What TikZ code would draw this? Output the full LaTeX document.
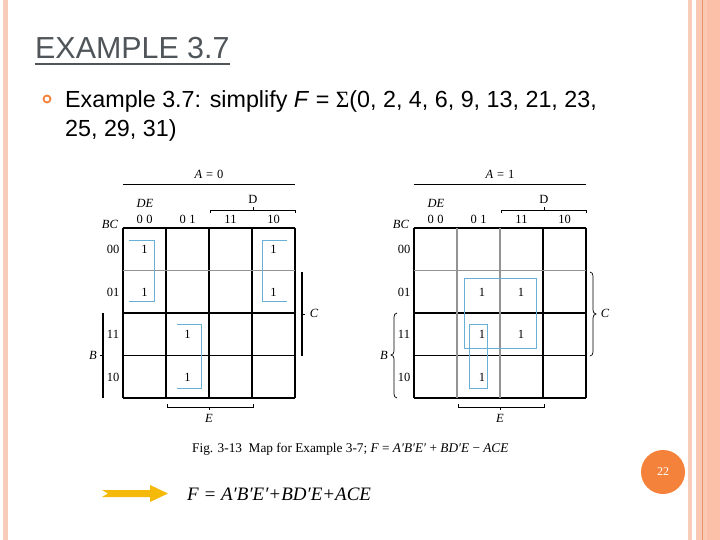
\documentclass[tikz,border=0pt]{standalone}
\usepackage{fontspec}
\setmainfont{Liberation Serif}
\newfontfamily\sansf{Liberation Sans}
\usetikzlibrary{calc}
\definecolor{pinkA}{HTML}{F9CBB9}
\definecolor{pinkB}{HTML}{FBC8B4}
\definecolor{pinkC}{HTML}{FCBFA8}
\definecolor{orgline}{HTML}{E9946B}
\definecolor{titlegray}{HTML}{50555A}
\definecolor{circorange}{HTML}{F5823A}
\definecolor{groupblue}{HTML}{6AAFD6}
\definecolor{arrowgold}{HTML}{F5B90A}
\tikzset{
  klab/.style={inner sep=0, font=\fontsize{12.5}{14}\selectfont},
  kone/.style={inner sep=0, font=\fontsize{12.5}{14}\selectfont},
  kgrid/.style={black, line width=1.1pt},
  kgray/.style={gray!85, line width=1.6pt},
  kbrk/.style={black, line width=0.8pt},
  grp/.style={groupblue, line width=0.9pt},
}
\newcommand\kmapframe[2]{%
  \foreach \i in {0,...,4} \draw[kgrid] (\i*43,0) -- (\i*43,170);
  \foreach \j in {0,...,4} \draw[kgrid] (0,\j*42.5) -- (172,\j*42.5);
  \node[klab] (#1A) at (86,-54) {\textit{A}\hspace{4pt}=\hspace{4pt}#2};
  \draw[kbrk] (0,-44) -- (172,-44);
  \node[klab] (#1DE) at (22,-25) {\textit{DE}};
  \node[klab] (#1D) at (130,-29) {D};
  \draw[kbrk, line width=0.6pt] (87,-15) -- (87,-18) -- (172,-18) -- (172,-15);
  \draw[kbrk, line width=0.6pt] (130,-18) -- (130,-21);
  \node[klab] (#1c0) at (21.5,-9) {0\hspace{3.5pt}0};
  \node[klab] (#1c1) at (64.5,-9) {0\hspace{3.5pt}1};
  \node[klab] (#1c2) at (107.5,-9) {11};
  \node[klab] (#1c3) at (150.5,-9) {10};
  \node[klab] (#1BC) at (-13,-4) {\textit{BC}};
  \node[klab] (#1r0) at (-10,21) {00};
  \node[klab] (#1r1) at (-10,64) {01};
  \node[klab] (#1r2) at (-10,106) {11};
  \node[klab] (#1r3) at (-10,149) {10};
  \node[klab] (#1B) at (-30,127) {\textit{B}};
  \node[klab] (#1C) at (191,85) {\textit{C}};
  \node[klab] (#1E) at (86,190) {\textit{E}};
  \draw[kbrk, line width=0.6pt] (44,176) -- (44,179) -- (130,179) -- (130,176);
  \draw[kbrk, line width=0.6pt] (86,179) -- (86,182);
}
\begin{document}
\begin{tikzpicture}[x=1pt,y=-1pt]
\useasboundingbox (0,0) rectangle (720,540);
\fill[white] (0,0) rectangle (720,540);
% borders
\fill[pinkA] (3,0) rectangle (8,540);
\fill[pinkA] (688,0) rectangle (692,540);
\fill[pinkB] (696,0) rectangle (720,540);
\fill[pinkC] (707,0) rectangle (720,540);
\draw[orgline, line width=1pt] (702.5,0) -- (702.5,540);
% title
\node[anchor=base west, inner sep=0, text=titlegray,
      font=\sansf\fontsize{30.4}{32}\selectfont] (title) at (35,59) {EXAMPLE 3.7};
\draw[titlegray, line width=1.3pt] ($(title.base west)+(0,5)$) -- ($(title.base east)+(0,5)$);
% bullet text
\node[circle, draw=circorange, line width=1.8pt, minimum size=7pt, inner sep=0] (bul) at (47,99) {};
\node[anchor=base west, inner sep=0, font=\sansf\fontsize{23.3}{28}\selectfont] (l1) at (65,107.5)
  {Example 3.7: simplify \textit{F} = {\rmfamily Σ}(0, 2, 4, 6, 9, 13, 21, 23,};
\node[anchor=base west, inner sep=0, font=\sansf\fontsize{23.3}{28}\selectfont] (l2) at (65,136.5)
  {25, 29, 31)};
% left map
\begin{scope}[shift={(123,228)}]
  \kmapframe{L}{0}
  \draw[kgray] (0,42.5) -- (172,42.5);
  \draw[kbrk, line width=1.6pt] (-20,85) -- (-20,170);
  \draw[kbrk] (-20,127) -- (-23,127);
  \draw[kbrk, line width=1.6pt] (179,44) -- (179,128);
  \draw[kbrk] (179,86) -- (182,86);
  \node[kone] (L00) at (21.5,21.5) {1};
  \node[kone] (L01) at (21.5,64) {1};
  \node[kone] (L30) at (150.5,21.5) {1};
  \node[kone] (L31) at (150.5,64) {1};
  \node[kone] (L12) at (64.5,106) {1};
  \node[kone] (L13) at (64.5,149) {1};
  \draw[grp] (6,12) -- (31,12) -- (31,73) -- (6,73);
  \draw[grp] (164,12) -- (139,12) -- (139,73) -- (164,73);
  \draw[grp] (54,96) -- (78,96) -- (78,160) -- (54,160);
\end{scope}
% right map
\begin{scope}[shift={(414,228)}]
  \kmapframe{R}{1}
  \draw[kgray] (0,42.5) -- (172,42.5);
  \draw[kgray] (43,0) -- (43,170);
  \draw[kgray] (86,0) -- (86,170);
  \draw[kbrk, line width=0.7pt] (-17,85) to[out=180,in=90] (-20,89) -- (-20,123) to[out=-90,in=0] (-23,127) to[out=0,in=90] (-20,131) -- (-20,166) to[out=-90,in=180] (-17,170);
  \draw[kbrk, line width=0.7pt] (176,44) to[out=0,in=90] (179,48) -- (179,82) to[out=-90,in=180] (182,86) to[out=180,in=90] (179,90) -- (179,124) to[out=-90,in=0] (176,128);
  \node[kone] (R11) at (68,64) {1};
  \node[kone] (R21) at (107,64) {1};
  \node[kone] (R12) at (68,106) {1};
  \node[kone] (R22) at (107,106) {1};
  \node[kone] (R13) at (68,149) {1};
  \draw[grp] (50,50) rectangle (122,120);
  \draw[grp] (55,96) rectangle (73,160);
\end{scope}
% caption
\node[anchor=base west, inner sep=0, font=\fontsize{13.3}{15}\selectfont] (cap) at (192,452.5)
  {Fig. 3-13\enspace Map for Example 3-7; \textit{F} = \textit{A′B′E′} + \textit{BD′E} − \textit{ACE}};
% arrow
\fill[arrowgold] (102,490) -- (150,490) -- (150,485) -- (168,493.5) -- (150,502) -- (150,497) -- (102,497) -- (108,493.5) -- cycle;
\node[anchor=base west, inner sep=0, font=\itshape\fontsize{19}{22}\selectfont] (fx) at (187,500)
  {F = A′B′E′+BD′E+ACE};
% page number
\node[circle, fill=circorange, minimum size=44pt, inner sep=0, text=white,
      font=\fontsize{12}{14}\selectfont] (pg) at (663,472) {22};
\end{tikzpicture}
\end{document}
